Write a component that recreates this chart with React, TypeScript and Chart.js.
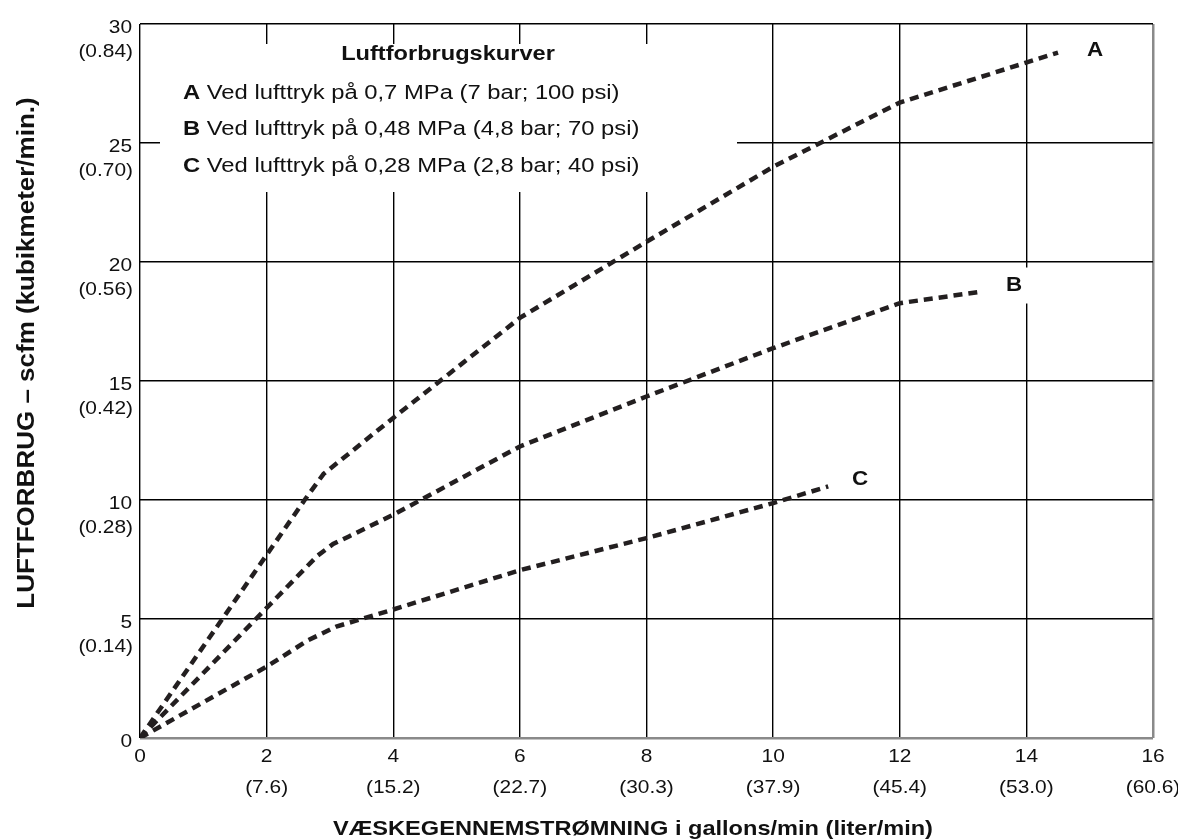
import React, { useEffect, useRef } from 'react';
import { Chart, registerables } from 'chart.js';

Chart.register(...registerables);

// ---- Data ----
const xTicks = [0, 2, 4, 6, 8, 10, 12, 14, 16];
const xTickSub = ['', '(7.6)', '(15.2)', '(22.7)', '(30.3)', '(37.9)', '(45.4)', '(53.0)', '(60.6)'];
const yTicks = [0, 5, 10, 15, 20, 25, 30];
const yTickSub = ['', '(0.14)', '(0.28)', '(0.42)', '(0.56)', '(0.70)', '(0.84)'];

const seriesNames = ['A', 'B', 'C'];
const aX = [0, 2.6, 2.9, 3.3, 4, 6, 8, 10, 12, 14.5];
const aY = [0, 10.0, 11.1, 11.95, 13.45, 17.65, 20.85, 24.0, 26.7, 28.8];
const bX = [0, 2.8, 3.05, 3.3, 4, 6, 8, 10, 12, 13.3];
const bY = [0, 7.65, 8.15, 8.47, 9.38, 12.25, 14.35, 16.38, 18.27, 18.76];
const cX = [0, 2.0, 2.65, 3.1, 3.4, 4, 6, 8, 10, 10.87];
const cY = [0, 3.0, 4.1, 4.68, 4.92, 5.4, 7.05, 8.4, 9.87, 10.57];

const legendTitle = 'Luftforbrugskurver';
const legendRows = [
  ['A', ' Ved lufttryk på 0,7 MPa (7 bar; 100 psi)'],
  ['B', ' Ved lufttryk på 0,48 MPa (4,8 bar; 70 psi)'],
  ['C', ' Ved lufttryk på 0,28 MPa (2,8 bar; 40 psi)'],
];
const xTitle = 'VÆSKEGENNEMSTRØMNING i gallons/min (liter/min)';
const yTitle = 'LUFTFORBRUG – scfm (kubikmeter/min.)';

// ---- Style ----
const FONT = '"Liberation Sans", Arial, Helvetica, sans-serif';
const INK = '#111111';
const LINE = '#231f20';
const EDGE = '#8a8a8a';
const SX = 1.15;

function drawText(ctx: CanvasRenderingContext2D, text: string, x: number, y: number, font: string, align: CanvasTextAlign, sx = SX, rotate = false) {
  ctx.save();
  ctx.translate(x, y);
  if (rotate) {
    ctx.rotate(-Math.PI / 2);
    ctx.scale(1, sx);
  } else {
    ctx.scale(sx, 1);
  }
  ctx.font = font;
  ctx.textAlign = align;
  ctx.textBaseline = 'alphabetic';
  ctx.fillStyle = INK;
  ctx.fillText(text, 0, 0);
  ctx.restore();
}

const decorPlugin = {
  id: 'decor',
  beforeDatasetsDraw(chart: any) {
    const ctx: CanvasRenderingContext2D = chart.ctx;
    // legend box (white, hides grid)
    ctx.save();
    ctx.fillStyle = '#ffffff';
    ctx.fillRect(160, 44, 577, 148);
    ctx.restore();
    drawText(ctx, legendTitle, 448, 60, `bold 20px ${FONT}`, 'center', 1.18);
    legendRows.forEach((row, i) => {
      const y = 99 + i * 36.3;
      ctx.save();
      ctx.font = `bold 20px ${FONT}`;
      const w = ctx.measureText(row[0]).width * 1.19;
      ctx.restore();
      drawText(ctx, row[0], 183, y, `bold 20px ${FONT}`, 'left', 1.19);
      drawText(ctx, row[1], 183 + w, y, `20px ${FONT}`, 'left', 1.19);
    });
  },
  afterDatasetsDraw(chart: any) {
    const ctx: CanvasRenderingContext2D = chart.ctx;
    const xs = chart.scales.x;
    const ys = chart.scales.y;
    chart.data.datasets.forEach((ds: any, i: number) => {
      const last = ds.data[ds.data.length - 1];
      const px = xs.getPixelForValue(last.x);
      const py = ys.getPixelForValue(last.y);
      ctx.save();
      ctx.fillStyle = '#ffffff';
      ctx.fillRect(px + 1, py - 24, 58, 36);
      ctx.restore();
      const dx = i === 0 ? 37 : 32;
      const dy = i === 0 ? 3 : -1;
      drawText(ctx, seriesNames[i], px + dx, py + dy, `bold 20px ${FONT}`, 'center', 1.12);
    });
  },
  afterDraw(chart: any) {
    const ctx: CanvasRenderingContext2D = chart.ctx;
    const xs = chart.scales.x;
    const ys = chart.scales.y;
    const tf = `19px ${FONT}`;
    yTicks.forEach((v, i) => {
      const py = ys.getPixelForValue(v);
      drawText(ctx, String(v), 132, py + 9, tf, 'right', 1.1);
      if (yTickSub[i]) drawText(ctx, yTickSub[i], 133, py + 33, tf, 'right', 1.1);
    });
    const bottom = chart.chartArea.bottom;
    xTicks.forEach((v, i) => {
      const px = xs.getPixelForValue(v);
      drawText(ctx, String(v), px, bottom + 24, tf, 'center', 1.1);
      if (xTickSub[i]) drawText(ctx, xTickSub[i], px, bottom + 55, tf, 'center', 1.1);
    });
    drawText(ctx, xTitle, 633, 835, `bold 20.5px ${FONT}`, 'center', 1.15);
    drawText(ctx, yTitle, 34, 353, `bold 26px ${FONT}`, 'center', 0.95, true);
  },
};

function toPoints(xs: number[], ys: number[]) {
  return xs.map((x, i) => ({ x, y: ys[i] }));
}

export default function App() {
  const ref = useRef<HTMLCanvasElement | null>(null);
  useEffect(() => {
    if (!ref.current) return;
    const lineDs = (label: string, xs: number[], ys: number[]) => ({
      label,
      data: toPoints(xs, ys),
      borderColor: LINE,
      borderWidth: 4.5,
      borderDash: [9, 6],
      borderCapStyle: 'butt' as const,
      pointRadius: 0,
      tension: 0,
      fill: false,
    });
    const chart = new Chart(ref.current, {
      type: 'line',
      data: {
        datasets: [
          lineDs(seriesNames[0], aX, aY),
          lineDs(seriesNames[1], bX, bY),
          lineDs(seriesNames[2], cX, cY),
        ],
      },
      options: {
        responsive: false,
        maintainAspectRatio: false,
        animation: false,
        layout: { padding: { left: 0, top: 24, right: 25, bottom: 0 } },
        plugins: { legend: { display: false }, tooltip: { enabled: false } },
        scales: {
          x: {
            type: 'linear',
            min: 0,
            max: 16,
            ticks: { display: false, stepSize: 2 },
            border: { display: false },
            grid: {
              drawTicks: false,
              color: (c: any) => (c.tick && c.tick.value === 16 ? EDGE : '#000000'),
              lineWidth: (c: any) => (c.tick && c.tick.value === 16 ? 2.5 : 1.4),
            },
            afterFit: (s: any) => { s.height = 101; },
          },
          y: {
            type: 'linear',
            min: 0,
            max: 30,
            ticks: { display: false, stepSize: 5 },
            border: { display: false },
            grid: {
              drawTicks: false,
              color: (c: any) => (c.tick && c.tick.value === 0 ? EDGE : '#000000'),
              lineWidth: (c: any) => (c.tick && c.tick.value === 0 ? 2.5 : 1.4),
            },
            afterFit: (s: any) => { s.width = 140; },
          },
        },
      },
      plugins: [decorPlugin],
    });
    return () => chart.destroy();
  }, []);
  return (
    <div style={{ position: 'absolute', left: 0, top: 0, width: 1178, height: 839, background: '#fff' }}>
      <canvas ref={ref} width={1178} height={839} />
    </div>
  );
}
